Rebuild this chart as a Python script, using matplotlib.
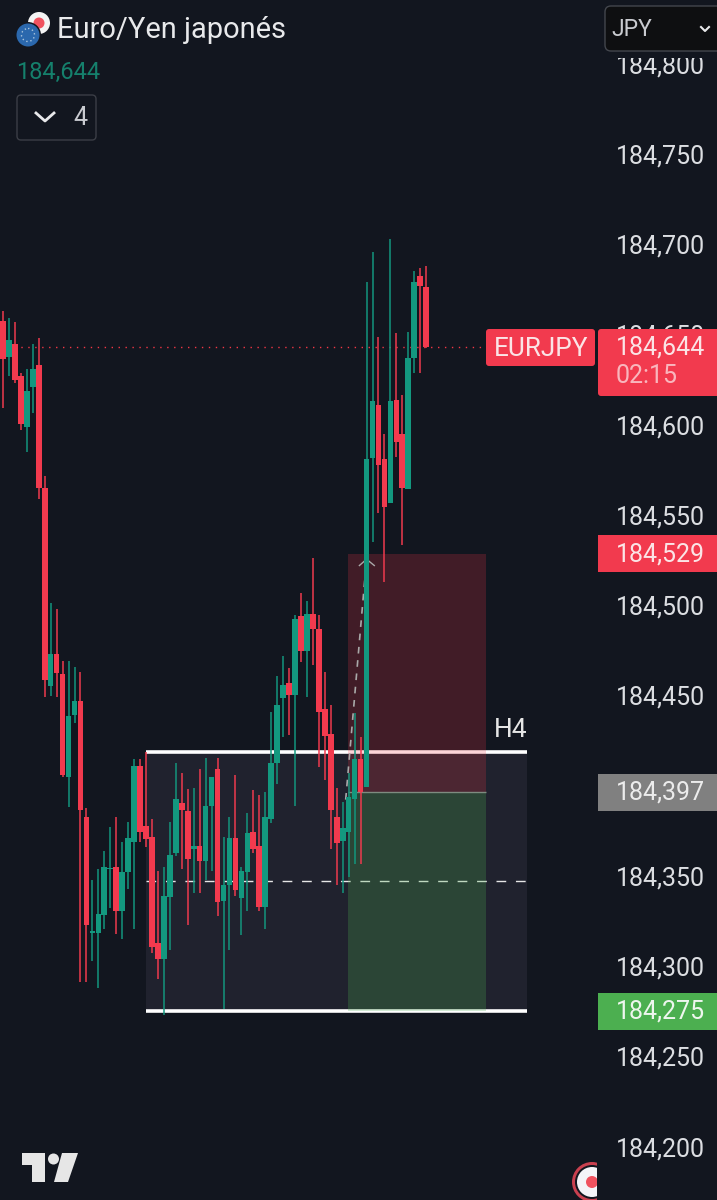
import matplotlib
matplotlib.use('Agg')
import matplotlib.pyplot as plt
from matplotlib.patches import Rectangle, FancyBboxPatch, Circle, Polygon

plt.rcParams['font.family'] = ['Roboto', 'DejaVu Sans']

# candles, oldest first
opens = [184.6575, 184.6375, 184.6447, 184.6270, 184.5987, 184.6209, 184.6331, 184.5649, 184.4553, 184.4730,
         184.4619, 184.4048, 184.4392, 184.4469, 184.3827, 184.3184, 184.3184, 184.3284, 184.3539, 184.3550,
         184.3306, 184.3522, 184.3688, 184.4109, 184.3777, 184.3716, 184.3129, 184.3040, 184.3384, 184.3627,
         184.3904, 184.3860, 184.3650, 184.3666, 184.3583, 184.3888, 184.4093, 184.3361, 184.3450, 184.3710,
         184.3378, 184.3522, 184.3744, 184.3666, 184.3328, 184.3816, 184.4126, 184.4486, 184.4569, 184.4503,
         184.4940, 184.4746, 184.4951, 184.4868, 184.4425, 184.4287, 184.3827, 184.3694, 184.3744, 184.3927,
         184.4148, 184.3993, 184.5816, 184.6109, 184.5810, 184.5566, 184.6137, 184.5949, 184.5644, 184.6370,
         184.6824, 184.6763]
closes = [184.6364, 184.6469, 184.6248, 184.6004, 184.6187, 184.6309, 184.5649, 184.4586, 184.4730, 184.4625,
          184.4059, 184.4386, 184.4469, 184.3866, 184.3228, 184.3195, 184.3289, 184.3550, 184.3544, 184.3306,
          184.3522, 184.3710, 184.4109, 184.3744, 184.3705, 184.3107, 184.3040, 184.3389, 184.3616, 184.3927,
          184.3866, 184.3594, 184.3666, 184.3583, 184.3888, 184.4048, 184.3356, 184.3450, 184.3710, 184.3422,
          184.3528, 184.3738, 184.3650, 184.3328, 184.3827, 184.4126, 184.4447, 184.4558, 184.4503, 184.4924,
          184.4746, 184.4951, 184.4868, 184.4409, 184.4276, 184.3866, 184.3683, 184.3766, 184.3938, 184.4148,
          184.3965, 184.5810, 184.6131, 184.5777, 184.5544, 184.6131, 184.5904, 184.5649, 184.6370, 184.6791,
          184.6769, 184.6431]
highs = [184.6630, 184.6591, 184.6569, 184.6287, 184.6309, 184.6447, 184.6480, 184.5716, 184.5012, 184.4979,
         184.4691, 184.4691, 184.4658, 184.4630, 184.3877, 184.3478, 184.3539, 184.3638, 184.3771, 184.3827,
         184.3688, 184.3799, 184.4148, 184.4148, 184.4187, 184.3816, 184.3528, 184.3550, 184.3799, 184.4126,
         184.4071, 184.3982, 184.3987, 184.4093, 184.4154, 184.4048, 184.4154, 184.3716, 184.3827, 184.4059,
         184.3550, 184.3849, 184.3976, 184.3949, 184.3965, 184.4409, 184.4608, 184.4719, 184.4652, 184.4946,
         184.5068, 184.5023, 184.5262, 184.4946, 184.4630, 184.4447, 184.3987, 184.3910, 184.4071, 184.4403,
         184.4270, 184.6791, 184.6957, 184.6486, 184.5949, 184.7029, 184.6508, 184.6165, 184.6514, 184.6852,
         184.6868, 184.6879]
lows = [184.6093, 184.6270, 184.6231, 184.5971, 184.5849, 184.6065, 184.5589, 184.4492, 184.4497, 184.4492,
        184.4048, 184.3882, 184.4348, 184.2913, 184.2913, 184.3029, 184.2879, 184.3206, 184.3323, 184.3179,
        184.3151, 184.3428, 184.3206, 184.3688, 184.3661, 184.3073, 184.2929, 184.2730, 184.3090, 184.3611,
        184.3539, 184.3228, 184.3406, 184.3406, 184.3478, 184.3528, 184.3278, 184.2763, 184.3090, 184.3389,
        184.3173, 184.3306, 184.3627, 184.3306, 184.3206, 184.3794, 184.4010, 184.4270, 184.4281, 184.3888,
        184.4686, 184.4492, 184.4669, 184.4104, 184.4032, 184.3650, 184.3450, 184.3406, 184.3494, 184.3566,
        184.3566, 184.3993, 184.5350, 184.5511, 184.5129, 184.5566, 184.5821, 184.5334, 184.5644, 184.6287,
        184.6287, 184.6425]

tick_prices = [184.800, 184.750, 184.700, 184.650, 184.600, 184.550, 184.500, 184.450, 184.400, 184.350, 184.300, 184.250, 184.200]
tick_labels = ['184,800', '184,750', '184,700', '184,650', '184,600', '184,550', '184,500', '184,450', '184,400', '184,350', '184,300', '184,250', '184,200']

last_price = 184.6431
stop_price = 184.5285
entry_price = 184.3963
target_price = 184.275
range_high = 184.4187
range_mid = 184.347
range_low = 184.275

# drawings, in candle numbers
range_start, range_end = 24, 88
pos_start, pos_end = 57.85, 81

bg = '#12161f'
red = '#f23a4e'
green = '#13987f'

y_top, y_bottom = 184.8353, 184.1705


def price_px(p):
    return (y_top - p) / (y_top - y_bottom) * 1200


fig = plt.figure(figsize=(7.17, 12), dpi=100, facecolor=bg)
ax = fig.add_axes([0, 0, 1, 1], facecolor=bg)
ax.set_xlim(-0.5, 119.8)
ax.set_ylim(y_bottom, y_top)
for s in ax.spines.values():
    s.set_visible(False)
ax.set_xticks([])
ax.yaxis.tick_right()
ax.set_yticks(tick_prices, tick_labels)
ax.tick_params(axis='y', length=0, pad=-72.5, labelsize=18, labelcolor='#dcdee2')

# H4 range
ax.add_patch(Rectangle((range_start, range_low), range_end - range_start, range_high - range_low,
                       facecolor='#20222e', edgecolor='none', zorder=1))
ax.hlines([range_high, range_low], range_start, range_end, color='white', lw=2.6, zorder=2)
ax.hlines(range_mid, range_start, range_end, color='#e6e6e6', lw=1, linestyles=(0, (7, 7)), zorder=2)

# short position
ax.add_patch(Rectangle((pos_start, entry_price), pos_end - pos_start, stop_price - entry_price,
                       facecolor='#f23645', alpha=0.21, edgecolor='none', zorder=3))
ax.add_patch(Rectangle((pos_start, target_price), pos_end - pos_start, entry_price - target_price,
                       facecolor='#4caf50', alpha=0.25, edgecolor='none', zorder=3))
ax.hlines(entry_price, pos_start, pos_end, color='#7d8c80', lw=1, zorder=3.1)
ax.plot([57.5, 61], [entry_price - 0.004, stop_price - 0.003], color='#a9a9a9', lw=1.2, ls=(0, (4, 4)), zorder=3.2)
ax.plot([59.8, 61, 62.3], [stop_price - 0.0065, stop_price - 0.003, stop_price - 0.0065], color='#a9a9a9', lw=1, zorder=3.2)

# last price line
ax.hlines(last_price, -0.5, 81, color='#f23645', lw=1, linestyles=(0, (1, 4)), zorder=3)

# candles
for i in range(len(opens)):
    c = green if closes[i] >= opens[i] else red
    ax.vlines(i, lows[i], highs[i], color=c, lw=1.2, zorder=4, alpha=0.9)
    ax.bar(i, abs(closes[i] - opens[i]), bottom=min(opens[i], closes[i]), width=0.95, color=c, zorder=5)

ax.text(88, range_high + 0.0055, 'H4', color='#e6e6e6', fontsize=19, ha='right', va='bottom', zorder=6)

# everything the app lays over the chart, in pixels
ov = fig.add_axes([0, 0, 1, 1], facecolor='none')
ov.set_xlim(0, 717)
ov.set_ylim(1200, 0)
ov.axis('off')


def rbox(x, y, w, h, r, **kw):
    ov.add_patch(FancyBboxPatch((x + r, y + r), w - 2 * r, h - 2 * r,
                                boxstyle='round,pad=%s,rounding_size=%s' % (r, r), **kw))


# price tags
rbox(486, 329, 109, 37, 3, facecolor=red, edgecolor='none')
rbox(598, 329, 125, 67, 3, facecolor=red, edgecolor='none')
ov.text(541, 349, 'EURJPY', color='#fbe4e6', fontsize=18.8, ha='center', va='center')
ov.text(616, 347, '184,644', color='#fbe4e6', fontsize=18, va='center')
ov.text(616, 376, '02:15', color='#f9b6bd', fontsize=18, va='center')
tag_labels = ['184,529', '184,397', '184,275']
tag_prices = [stop_price, entry_price, target_price]
tag_colors = [red, '#808080', '#4caf50']
tag_text_colors = ['#fbe4e6', '#ececec', '#eef6ee']
for p, lab, col, txt_col in zip(tag_prices, tag_labels, tag_colors, tag_text_colors):
    y = price_px(p)
    ov.add_patch(Rectangle((598, y - 18.5), 125, 37, facecolor=col, edgecolor='none'))
    ov.text(616, y + 0.5, lab, color=txt_col, fontsize=18, va='center')

# header
ov.add_patch(Circle((39, 23), 11, facecolor='#f4f4f4', edgecolor='none'))
ov.add_patch(Circle((39, 23), 5.5, facecolor='#f0525f', edgecolor='none'))
ov.add_patch(Circle((28, 35), 13, facecolor=bg, edgecolor='none'))
ov.add_patch(Circle((28, 35), 11.5, facecolor='#2b68ad', edgecolor='none'))
ov.add_patch(Circle((28, 35), 6.5, facecolor='none', edgecolor='#a9c4dd', lw=1, ls=(0, (1, 2))))
ov.text(57, 30.5, 'Euro/Yen japonés', color='#e8e9eb', fontsize=20.9, va='center')
ov.text(16, 72, '184,644', color='#15806c', fontsize=17, va='center')
rbox(17, 95, 79, 45, 4, facecolor=bg, edgecolor='#3b3e46', lw=1)
ov.plot([36, 45, 54], [113, 121, 113], color='#e8e9eb', lw=2)
ov.text(73, 118, '4', color='#c9cbd0', fontsize=18, va='center')

ov.add_patch(Rectangle((598, 51), 119, 7, facecolor=bg, edgecolor='none'))
rbox(605, 6, 130, 45, 6, facecolor='#0e0f11', edgecolor='#43464d', lw=1)
ov.text(611, 29.5, 'JPY', color='#c9cbd0', fontsize=16.5, va='center')
ov.plot([701, 705, 709], [27, 31, 27], color='#e8e9eb', lw=1.5)

# TradingView logo
logo = '#e6e6e6'
ov.add_patch(Polygon([(22, 1153), (45, 1153), (45, 1182), (32, 1182), (32, 1165), (22, 1165)], facecolor=logo, edgecolor='none'))
ov.add_patch(Circle((53.5, 1159), 5.5, facecolor=logo, edgecolor='none'))
ov.add_patch(Polygon([(62, 1153), (78, 1153), (68, 1182), (54, 1182)], facecolor=logo, edgecolor='none'))

# badge at the bottom, cut by the price column
clip = Rectangle((0, 0), 597, 1200, transform=ov.transData)
for r, col in [(20, '#c9404f'), (17, bg), (15, '#f4f4f8'), (6, '#f0525f')]:
    c = ov.add_patch(Circle((592, 1182), r, facecolor=col, edgecolor='none'))
    c.set_clip_path(clip)

fig.savefig('out.png', dpi=100, facecolor=bg)
